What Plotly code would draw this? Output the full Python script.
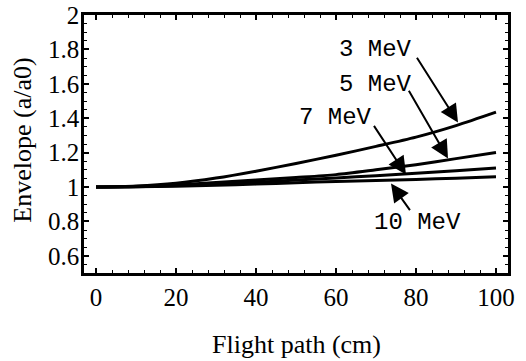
import plotly.graph_objects as go

# Data
flight_path = [0, 10, 20, 30, 40, 50, 60, 70, 80, 90, 100]
env_3mev = [1.0, 1.006, 1.022, 1.052, 1.092, 1.137, 1.185, 1.236, 1.29, 1.357, 1.435]
env_5mev = [1.0, 1.003, 1.013, 1.026, 1.040, 1.055, 1.072, 1.100, 1.130, 1.165, 1.20]
env_7mev = [1.0, 1.002, 1.008, 1.017, 1.028, 1.040, 1.053, 1.066, 1.08, 1.095, 1.11]
env_10mev = [1.0, 1.001, 1.005, 1.010, 1.017, 1.025, 1.032, 1.038, 1.044, 1.051, 1.059]

series = [("3 MeV", env_3mev), ("5 MeV", env_5mev), ("7 MeV", env_7mev), ("10 MeV", env_10mev)]

# label text position, arrow tail, arrow tip (data coords)
label_text = ["3 MeV", "5 MeV", "7 MeV", "10 MeV"]
label_pos = [(69.75, 1.80), (69.75, 1.597), (59.75, 1.404), (80.25, 0.794)]
arrow_tail = [(80.0, 1.76), (78.0, 1.568), (69.25, 1.364), (78.75, 0.857)]
arrow_tip = [(90.5, 1.375), (88.0, 1.166), (77.5, 1.072), (73.75, 1.02)]

x_ticks = [0, 20, 40, 60, 80, 100]
y_ticks = [0.6, 0.8, 1.0, 1.2, 1.4, 1.6, 1.8, 2.0]
y_ticktext = ["0.6", "0.8", "1", "1.2", "1.4", "1.6", "1.8", "2"]

fig = go.Figure()
for name, vals in series:
    fig.add_trace(go.Scatter(x=flight_path, y=vals, mode="lines", name=name,
                             line=dict(color="black", width=3, shape="spline", smoothing=0.8),
                             showlegend=False))

serif = "Liberation Serif"
mono = "Liberation Mono"

for txt, (tx, ty), (ax, ay), (hx, hy) in zip(label_text, label_pos, arrow_tail, arrow_tip):
    fig.add_annotation(x=tx, y=ty, xref="x", yref="y", text=txt, showarrow=False,
                       font=dict(family=mono, size=24, color="black"))
    fig.add_annotation(x=hx, y=hy, ax=ax, ay=ay, xref="x", yref="y", axref="x", ayref="y",
                       text="", showarrow=True, arrowhead=2, arrowsize=1.8,
                       arrowwidth=2, arrowcolor="black", standoff=0, startstandoff=0)

# axis titles
fig.add_annotation(x=0.5, y=-0.279, xref="paper", yref="paper", text="Flight path (cm)",
                   showarrow=False, xanchor="center", yanchor="middle",
                   font=dict(family=serif, size=26, color="black"))
fig.add_annotation(x=-0.145, y=0.515, xref="paper", yref="paper", text="Envelope (a/a0)",
                   showarrow=False, textangle=-90, xanchor="center", yanchor="middle",
                   font=dict(family=serif, size=26, color="black"))

fig.update_xaxes(range=[-3, 103], tickvals=x_ticks, ticks="inside", ticklen=5, tickwidth=1.5,
                 tickcolor="black", showline=True, linecolor="black", linewidth=2.5,
                 mirror="allticks", showgrid=False, zeroline=False, automargin=False,
                 minor=dict(dtick=4, ticks="inside", ticklen=3, tickcolor="black", tickwidth=1.2),
                 tickfont=dict(family=serif, size=25, color="black"))
fig.update_yaxes(range=[0.5, 2.0], tickvals=y_ticks, ticktext=y_ticktext, ticks="inside",
                 ticklen=5, tickwidth=1.5, tickcolor="black", showline=True, linecolor="black",
                 linewidth=2.5, mirror="allticks", showgrid=False, zeroline=False, automargin=False,
                 minor=dict(dtick=0.05, ticks="inside", ticklen=3, tickcolor="black", tickwidth=1.2),
                 ticklabelstandoff=-3,
                 tickfont=dict(family=serif, size=25, color="black"))

fig.update_layout(width=526, height=361, margin=dict(l=84, r=18, t=15, b=88, autoexpand=False),
                  paper_bgcolor="white", plot_bgcolor="white")

fig.write_html("out.html")
